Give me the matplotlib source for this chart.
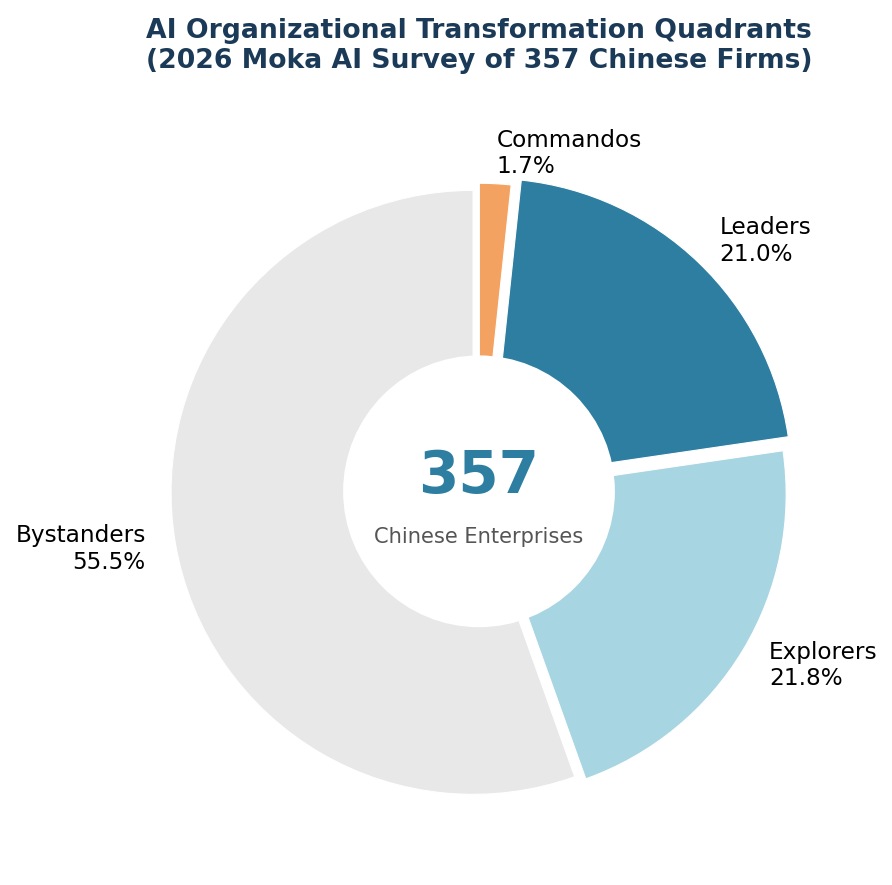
import matplotlib
matplotlib.use("Agg")
import matplotlib.pyplot as plt

# survey data (357 firms)
groups = ["Commandos", "Leaders", "Explorers", "Bystanders"]
counts = [6, 75, 78, 198]
total = sum(counts)

# styling
colors = ["#f4a261", "#2e7ea1", "#a8d5e2", "#e8e8e8"]
explode = [0.02, 0.05, 0.02, 0.02]

labels = ["%s\n%.1f%%" % (g, 100.0 * c / total) for g, c in zip(groups, counts)]

fig = plt.figure(figsize=(8.92, 8.85), dpi=100)
ax = fig.add_axes([0.1138, 0.0183, 0.8464, 0.8531])

ax.pie(counts, labels=labels, colors=colors, explode=explode,
       startangle=90, counterclock=False, labeldistance=1.1,
       wedgeprops=dict(edgecolor="white", linewidth=0.8),
       textprops=dict(fontsize=16.7, color="black"))
ax.set_aspect("equal")

# donut hole
ax.add_patch(plt.Circle((0, 0), 0.45, facecolor="white", edgecolor="none", zorder=3))

# center annotation
ax.text(0, 0.05, str(total), ha="center", va="center", zorder=4,
        fontsize=41.8, fontweight="bold", color="#2e7ea1")
ax.text(0, -0.15, "Chinese Enterprises", ha="center", va="center", zorder=4,
        fontsize=15.1, color="#555555")

ax.set_xlim(-1.25, 1.25)
ax.set_ylim(-1.25, 1.25)

fig.text(0.537, 1 - 46 / 885,
         "AI Organizational Transformation Quadrants\n(2026 Moka AI Survey of 357 Chinese Firms)",
         ha="center", va="center", fontsize=19.2, fontweight="bold",
         color="#1b3a57", linespacing=1.2)

fig.savefig("out.png", dpi=100)
